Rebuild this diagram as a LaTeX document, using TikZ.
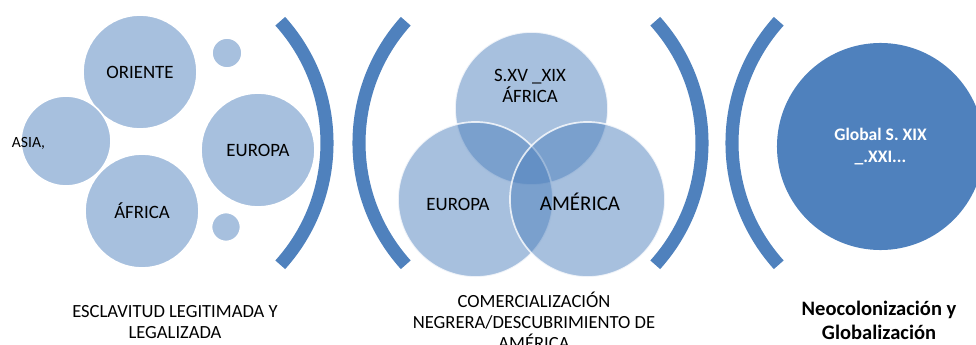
\documentclass[tikz,border=0pt]{standalone}
\usepackage{fontspec}
\setmainfont{Carlito}
\usepackage{tikz}

\definecolor{accent}{HTML}{4F81BD}
\definecolor{tint}{HTML}{A7C0DE}

\begin{document}
\begin{tikzpicture}[x=0.025cm, y=0.025cm, outer sep=0pt,
        every node/.style={inner sep=0pt, align=center, font=\fontsize{13.4}{15}\selectfont},
        bubble/.style={circle, fill=tint, draw=white, line width=1.2pt},
        venn/.style={circle, fill=accent, fill opacity=0.5, text opacity=1, draw=white, draw opacity=0.8, line width=1.2pt},
        arcbar/.style={draw=accent, line width=9.3pt},
        caption/.style={font=\fontsize{13.2}{14.4}\selectfont}]
        \useasboundingbox (0,0) rectangle (976,344);

        % esclavitud
        \node (oriente) [bubble, minimum size=2.85cm] at (140,272) {ORIENTE};
        \node (asia) [bubble, minimum size=2.25cm] at (66,203) {};
        \node (africa) [bubble, minimum size=2.85cm] at (142,133) {ÁFRICA};
        \node (europa) [bubble, minimum size=2.85cm] at (258,194) {EUROPA};
        \node (dottop) [bubble, minimum size=0.75cm] at (227,291) {};
        \node (dotbottom) [bubble, minimum size=0.725cm] at (226,117) {};
        \node (asialabel) [font=\fontsize{11.1}{13}\selectfont] at (28.5,201) {ASIA,};

        % comercializacion
        \node (venntop) [venn, minimum size=3.825cm] at (531.5,235.5) {};
        \node (vennleft) [venn, minimum size=3.875cm] at (475.5,144.5) {};
        \node (vennright) [venn, minimum size=3.875cm] at (587.5,144.5) {};
        \node (venntoplabel) at (530,258) {S.XV \_XIX\\ÁFRICA};
        \node (vennleftlabel) at (458,140) {EUROPA};
        \node (vennrightlabel) [font=\fontsize{14.9}{16}\selectfont] at (580,142) {AMÉRICA};

        % neocolonizacion
        \node (global) [circle, fill=accent, minimum size=5.175cm, text=white, font=\fontsize{12.5}{15.5}\selectfont\bfseries] at (880.5,197.5) {Global S. XIX\\\_.XXI...};

        % parentesis
        \draw[arcbar] (145,201) ++(-42:182) arc[start angle=-42, end angle=42, radius=182];
        \draw[arcbar] (541,201) ++(138:182) arc[start angle=138, end angle=222, radius=182];
        \draw[arcbar] (520,201) ++(-42:182) arc[start angle=-42, end angle=42, radius=182];
        \draw[arcbar] (914,201) ++(138:182) arc[start angle=138, end angle=222, radius=182];

        % titulos
        \node (esclavitud) [caption] at (175,22) {ESCLAVITUD LEGITIMADA Y\\LEGALIZADA};
        \node (comercio) [caption, font=\fontsize{13.2}{15}\selectfont] at (534,23) {COMERCIALIZACIÓN\\NEGRERA/DESCUBRIMIENTO DE\\AMÉRICA};
        \node (neocolonial) [caption, font=\fontsize{14.6}{17}\selectfont\bfseries] at (879,24) {Neocolonización y\\Globalización};
    \end{tikzpicture}
\end{document}
